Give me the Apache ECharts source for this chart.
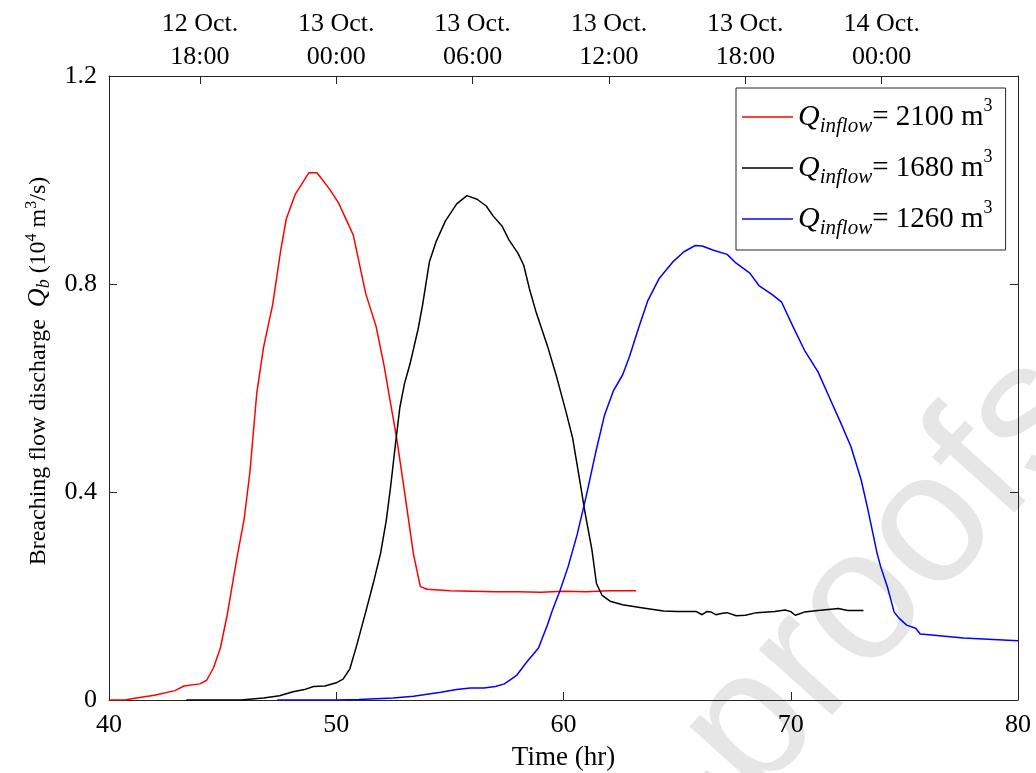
<!DOCTYPE html>
<html style="height: 100%">
<head>
    <meta charset="UTF-8">
    <script type="text/javascript" src="https://cdn.jsdelivr.net/npm/echarts@6/dist/echarts.min.js"></script>
    <style type="text/css">
        body {margin:0; padding:0; overflow:hidden; height: 100%; background: #fff}
    </style>
</head>
<body>
<div id="container" style="width:1036px;height:773px"></div>
<script>
    // time (hr) / breaching discharge (10^4 m3/s)
    var redHours  = [40.0, 40.7, 41.2, 42.0, 42.9, 43.3, 44.0, 44.3, 44.6, 44.9, 45.2, 45.6, 45.95, 46.2, 46.5, 46.8, 47.2, 47.55, 47.8, 48.2, 48.8, 49.15, 49.7, 50.1, 50.5, 50.75, 51.3, 51.75, 52.1, 52.4, 52.65, 52.95, 53.4, 53.7, 54.0, 55.0, 56.0, 57.0, 58.0, 59.0, 60.0, 61.0, 62.0, 63.2];
    var redFlow   = [0, 0, 0.004, 0.009, 0.018, 0.027, 0.031, 0.038, 0.062, 0.100, 0.163, 0.266, 0.349, 0.438, 0.589, 0.678, 0.760, 0.863, 0.925, 0.973, 1.014, 1.014, 0.983, 0.956, 0.918, 0.894, 0.781, 0.719, 0.644, 0.568, 0.506, 0.417, 0.280, 0.218, 0.213, 0.210, 0.209, 0.208, 0.208, 0.207, 0.209, 0.208, 0.210, 0.210];

    var blackHours = [43.4, 45.8, 46.8, 47.5, 48.1, 48.6, 49.0, 49.5, 50.0, 50.3, 50.6, 50.9, 51.3, 51.65, 51.95, 52.2, 52.4, 52.6, 52.8, 53.0, 53.25, 53.6, 53.8, 54.1, 54.4, 54.8, 55.3, 55.75, 56.2, 56.6, 56.9, 57.3, 57.6, 58.0, 58.25, 58.5, 58.8, 59.3, 59.7, 60.1, 60.4, 60.65, 60.95, 61.25, 61.45, 61.7, 62.05, 62.6, 63.5, 64.4, 65.0, 65.85, 66.1, 66.3, 66.5, 66.7, 67.0, 67.2, 67.6, 68.0, 68.5, 69.3, 69.75, 70.0, 70.2, 70.6, 71.2, 72.1, 72.5, 73.2];
    var blackFlow  = [0, 0, 0.004, 0.008, 0.016, 0.020, 0.026, 0.027, 0.033, 0.040, 0.060, 0.105, 0.170, 0.228, 0.282, 0.345, 0.413, 0.490, 0.563, 0.608, 0.647, 0.713, 0.760, 0.843, 0.882, 0.921, 0.954, 0.970, 0.963, 0.950, 0.931, 0.911, 0.885, 0.859, 0.836, 0.791, 0.745, 0.680, 0.621, 0.556, 0.504, 0.439, 0.360, 0.289, 0.224, 0.201, 0.190, 0.183, 0.177, 0.171, 0.170, 0.170, 0.164, 0.170, 0.169, 0.164, 0.167, 0.168, 0.162, 0.163, 0.168, 0.170, 0.173, 0.170, 0.163, 0.169, 0.172, 0.176, 0.172, 0.172];

    var blueHours = [47.4, 50.0, 51.0, 52.5, 53.4, 54.6, 55.3, 55.9, 56.5, 57.0, 57.4, 57.95, 58.4, 58.9, 59.3, 59.5, 59.85, 60.2, 60.6, 61.0, 61.4, 61.8, 62.2, 62.6, 62.9, 63.3, 63.7, 64.2, 64.8, 65.3, 65.8, 66.1, 66.6, 67.2, 67.6, 68.2, 68.6, 69.2, 69.6, 70.1, 70.6, 71.2, 71.75, 72.2, 72.65, 73.1, 73.4, 73.8, 73.96, 74.25, 74.55, 74.75, 75.1, 75.5, 75.7, 76.2, 77.6, 80.0];
    var blueFlow  = [0, 0, 0.001, 0.004, 0.007, 0.015, 0.020, 0.023, 0.023, 0.026, 0.031, 0.048, 0.074, 0.100, 0.145, 0.171, 0.211, 0.256, 0.318, 0.392, 0.473, 0.547, 0.595, 0.625, 0.660, 0.715, 0.767, 0.810, 0.842, 0.862, 0.874, 0.873, 0.865, 0.857, 0.840, 0.821, 0.797, 0.779, 0.765, 0.718, 0.673, 0.631, 0.577, 0.533, 0.487, 0.423, 0.365, 0.282, 0.256, 0.218, 0.169, 0.158, 0.144, 0.138, 0.127, 0.125, 0.119, 0.114];

    var inflowNames = ['2100', '1680', '1260'];
    var inflowColors = ['#ff0000', '#000000', '#0000ff'];

    var topTicks  = [44, 50, 56, 62, 68, 74];
    var topLabels = ['12 Oct.\n18:00', '13 Oct.\n00:00', '13 Oct.\n06:00', '13 Oct.\n12:00', '13 Oct.\n18:00', '14 Oct.\n00:00'];

    function zip(a, b) {
        var out = [];
        for (var i = 0; i < a.length; i++) out.push([a[i], b[i]]);
        return out;
    }

    var serif = 'Liberation Serif';
    var axisColor = '#262626';

    var myChart = echarts.init(document.getElementById('container'));

    var option = {
        backgroundColor: '#fff',
        animation: false,
        grid: {left: 109, right: 18, top: 76, bottom: 73, containLabel: false, outerBoundsMode: 'none'},
        graphic: [{
            type: 'text',
            x: 1062,
            y: 383,
            rotation: 0.838,
            z: -10,
            silent: true,
            style: {
                text: 'Journal Pre-proofs',
                fontFamily: 'Liberation Sans',
                fontSize: 186,
                fill: '#e6e6e6',
                align: 'right',
                verticalAlign: 'middle'
            }
        }],
        legend: {
            left: 736,
            top: 88,
            orient: 'vertical',
            icon: 'rect',
            itemWidth: 51,
            itemHeight: 1.5,
            itemGap: 11,
            padding: [9, 13, 11, 6],
            borderColor: axisColor,
            borderWidth: 1,
            backgroundColor: '#fff',
            data: inflowNames,
            formatter: function (name) {
                return '{q|Q}{sub|inflow}{t|= ' + name + ' m}{sup|3}';
            },
            textStyle: {
                color: '#000',
                fontFamily: serif,
                rich: {
                    q: {fontSize: 30, fontStyle: 'italic', fontFamily: serif, lineHeight: 40},
                    sub: {fontSize: 21, fontStyle: 'italic', fontFamily: serif, lineHeight: 14, verticalAlign: 'bottom'},
                    t: {fontSize: 29, fontFamily: serif, lineHeight: 40},
                    sup: {fontSize: 18, fontFamily: serif, lineHeight: 16, verticalAlign: 'top'}
                }
            }
        },
        xAxis: [{
            type: 'value',
            position: 'bottom',
            min: 40,
            max: 80,
            interval: 10,
            name: 'Time (hr)',
            nameLocation: 'middle',
            nameGap: 44,
            nameTextStyle: {fontFamily: serif, fontSize: 27, color: '#000'},
            axisLine: {show: true, onZero: false, lineStyle: {color: axisColor, width: 1}},
            axisTick: {show: true, inside: true, length: 8, lineStyle: {color: axisColor}},
            axisLabel: {fontFamily: serif, fontSize: 26, color: '#000', margin: 12},
            splitLine: {show: false}
        }, {
            type: 'value',
            position: 'top',
            min: 40,
            max: 80,
            axisLine: {show: true, onZero: false, lineStyle: {color: axisColor, width: 1}},
            axisTick: {show: true, inside: true, length: 8, customValues: topTicks, lineStyle: {color: axisColor}},
            axisLabel: {
                customValues: topTicks,
                fontFamily: serif,
                fontSize: 26,
                lineHeight: 33,
                color: '#000',
                margin: 2,
                formatter: function (v) {
                    var i = topTicks.indexOf(v);
                    return i >= 0 ? topLabels[i] : '';
                }
            },
            splitLine: {show: false}
        }],
        yAxis: [{
            type: 'value',
            position: 'left',
            min: 0,
            max: 1.2,
            interval: 0.4,
            name: 'Breaching flow discharge  {q|Q}{sub|b} (10{sup|4} m{sup|3}/s)',
            nameLocation: 'middle',
            nameGap: 55,
            nameTextStyle: {
                fontFamily: serif,
                fontSize: 24,
                color: '#000',
                lineHeight: 30,
                padding: [0, 0, 0, 34],
                rich: {
                    q: {fontSize: 26, fontStyle: 'italic', fontFamily: serif, lineHeight: 30},
                    sub: {fontSize: 18, fontStyle: 'italic', fontFamily: serif, lineHeight: 12, verticalAlign: 'bottom'},
                    sup: {fontSize: 16, fontFamily: serif, lineHeight: 14, verticalAlign: 'top'}
                }
            },
            axisLine: {show: true, onZero: false, lineStyle: {color: axisColor, width: 1}},
            axisTick: {show: true, inside: true, length: 8, lineStyle: {color: axisColor}},
            axisLabel: {
                fontFamily: serif, fontSize: 26, color: '#000', margin: 12,
                formatter: function (v) { return v === 0 ? '0' : v.toFixed(1); }
            },
            splitLine: {show: false}
        }, {
            type: 'value',
            position: 'right',
            min: 0,
            max: 1.2,
            interval: 0.4,
            axisLine: {show: true, onZero: false, lineStyle: {color: axisColor, width: 1}},
            axisTick: {show: true, inside: true, length: 8, lineStyle: {color: axisColor}},
            axisLabel: {show: false},
            splitLine: {show: false}
        }],
        series: [
            {name: inflowNames[0], type: 'line', data: zip(redHours, redFlow)},
            {name: inflowNames[1], type: 'line', data: zip(blackHours, blackFlow)},
            {name: inflowNames[2], type: 'line', data: zip(blueHours, blueFlow)}
        ].map(function (s, i) {
            s.showSymbol = false;
            s.symbol = 'none';
            s.color = inflowColors[i];
            s.lineStyle = {width: 1.5, color: inflowColors[i]};
            return s;
        })
    };

    myChart.setOption(option);
</script>
</body>
</html>
